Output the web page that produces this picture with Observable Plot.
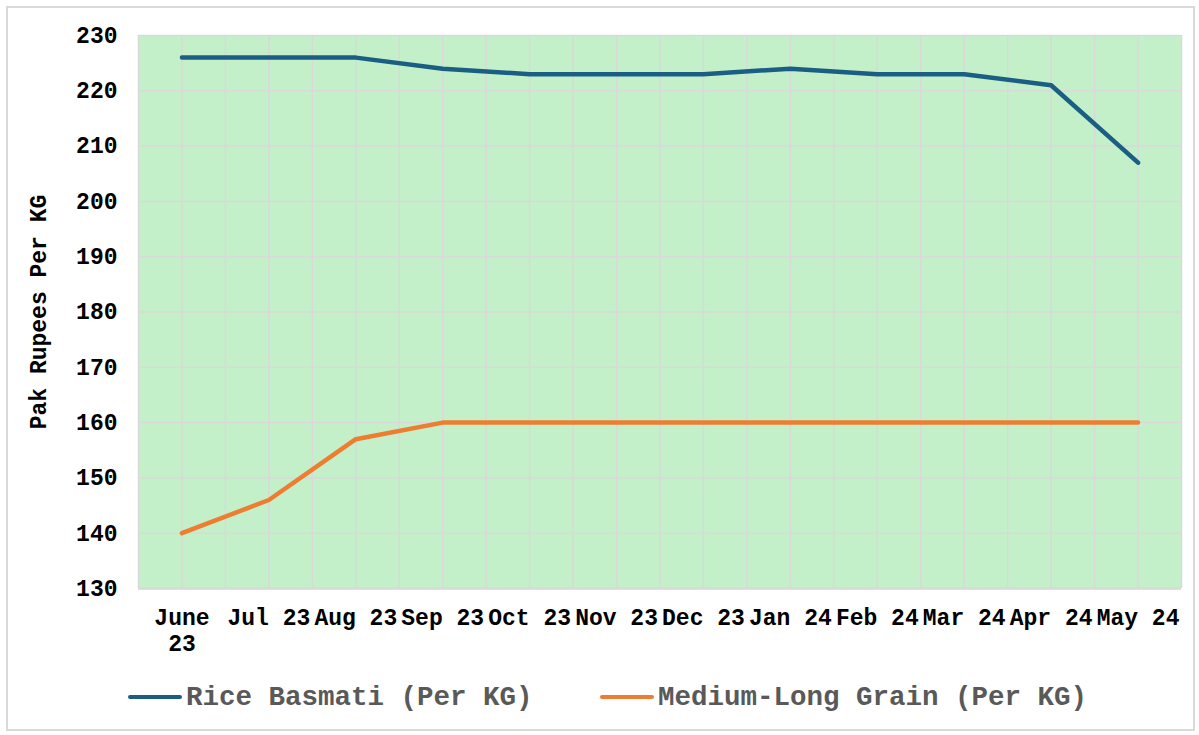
<!DOCTYPE html>
<html>
<head>
<meta charset="utf-8">
<script src="https://cdn.jsdelivr.net/npm/d3@7"></script>
<script src="https://cdn.jsdelivr.net/npm/@observablehq/plot@0.6"></script>
<style>
  html, body { margin: 0; padding: 0; background: #fff; }
  #wrap { position: relative; width: 1199px; height: 735px; overflow: hidden; }
  #border { position: absolute; left: 6px; top: 6px; width: 1185px; height: 721px; border: 2px solid #d9d9d9; }
  #chart { position: absolute; left: 0; top: 0; }
  .legend { position: absolute; top: 680px; left: 0; width: 1199px; height: 34px; font-family: "Liberation Mono", "DejaVu Sans Mono", monospace; font-weight: bold; font-size: 27.5px; color: #595959; }
  .item { position: absolute; top: 0; display: flex; align-items: center; height: 34px; white-space: pre; }
  .swatch { width: 54px; height: 4px; border-radius: 2px; margin-right: 4px; }
</style>
</head>
<body>
<div id="wrap">
  <div id="border"></div>
  <div id="chart"></div>
  <div class="legend" id="legend"></div>
</div>
<script>
const months = ["June 23", "Jul 23", "Aug 23", "Sep 23", "Oct 23", "Nov 23", "Dec 23", "Jan 24", "Feb 24", "Mar 24", "Apr 24", "May 24"];
const basmati = [226, 226, 226, 224, 223, 223, 223, 224, 223, 223, 221, 207];
const mediumLong = [140, 146, 157, 160, 160, 160, 160, 160, 160, 160, 160, 160];
const seriesNames = ["Rice Basmati (Per KG)", "Medium-Long Grain (Per KG)"];
const seriesColors = ["#1b5e83", "#ed7d31"];
const yTicks = [130, 140, 150, 160, 170, 180, 190, 200, 210, 220, 230];

const rows = [];
months.forEach((m, i) => {
  rows.push({i, month: m, series: seriesNames[0], value: basmati[i]});
  rows.push({i, month: m, series: seriesNames[1], value: mediumLong[i]});
});
const gridX = d3.range(-0.5, months.length, 0.5);
const font = "'Liberation Mono', 'DejaVu Sans Mono', monospace";

const chart = Plot.plot({
  width: 1199,
  height: 665,
  marginLeft: 138,
  marginRight: 18,
  marginTop: 35,
  marginBottom: 77,
  style: {fontFamily: font, fontSize: "23px", fontWeight: "bold", color: "#000", background: "transparent"},
  x: {domain: [-0.5, months.length - 0.5], axis: null},
  y: {domain: [130, 230], axis: null},
  color: {domain: seriesNames, range: seriesColors},
  marks: [
    Plot.frame({fill: "#c3f0c9", stroke: null}),
    Plot.ruleX(gridX, {stroke: "#d9d9d9", strokeWidth: 1.5}),
    Plot.ruleY(yTicks, {stroke: "#d9d9d9", strokeWidth: 1.5}),
    Plot.ruleY([130], {stroke: "#d9d9d9", strokeWidth: 2.5}),
    Plot.line(rows, {x: "i", y: "value", z: "series", stroke: "series", strokeWidth: 4.5, strokeLinecap: "round", strokeLinejoin: "round"}),
    Plot.text(yTicks, {x: -0.5, y: d => d, text: d => String(d), textAnchor: "end", dx: -21, fill: "#000", fontFamily: font, fontSize: 23, fontWeight: "bold"}),
    Plot.text(months, {x: (d, i) => i, y: 130, text: d => d, lineAnchor: "top", dy: 18, lineWidth: 3.8, monospace: true, lineHeight: 1.13, fontFamily: font, fontSize: 23, fontWeight: "bold", fill: "#000"}),
    Plot.text(["Pak Rupees Per KG"], {x: -0.5, y: 180, text: d => d, rotate: -90, dx: -100, fontFamily: font, fontSize: 23, fontWeight: "bold", fill: "#000"})
  ]
});
chart.style.overflow = "visible";
document.getElementById("chart").appendChild(chart);

const legend = document.getElementById("legend");
const legendX = [128, 600];
seriesNames.forEach((name, k) => {
  const item = document.createElement("div");
  item.className = "item";
  item.style.left = legendX[k] + "px";
  const sw = document.createElement("div");
  sw.className = "swatch";
  sw.style.background = seriesColors[k];
  const label = document.createElement("span");
  label.textContent = name;
  item.appendChild(sw);
  item.appendChild(label);
  legend.appendChild(item);
});
</script>
</body>
</html>
